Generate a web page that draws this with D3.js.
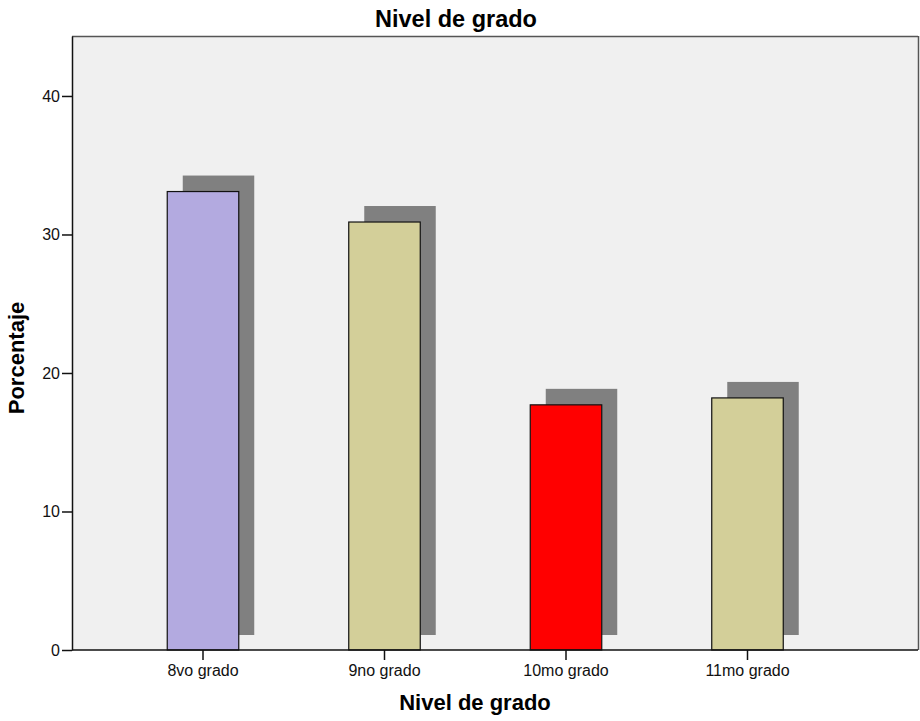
<!DOCTYPE html>
<html>
<head>
<meta charset="utf-8">
<script src="https://cdn.jsdelivr.net/npm/d3@7"></script>
<style>
  html, body { margin: 0; padding: 0; background: #ffffff; }
  svg { display: block; }
  text { font-family: "Liberation Sans", Arial, sans-serif; }
</style>
</head>
<body>
<div id="chart"></div>
<script>
const categories = ["8vo grado", "9no grado", "10mo grado", "11mo grado"];
const percentages = [33.1, 30.9, 17.7, 18.2];
const barColors = ["#b3aae0", "#d3cf99", "#ff0000", "#d3cf99"];
const yTicks = [0, 10, 20, 30, 40];
const titleText = "Nivel de grado";
const xTitle = "Nivel de grado";
const yTitle = "Porcentaje";

const W = 920, H = 721;
const plot = { left: 72, top: 36, right: 918, bottom: 650 };

const svg = d3.select("#chart").append("svg")
  .attr("width", W).attr("height", H);

const x = d3.scaleBand()
  .domain(categories)
  .range([112.25, 838.25])
  .paddingInner(0.606)
  .paddingOuter(0.303);

const y = d3.scaleLinear()
  .domain([0, 44.33])
  .range([plot.bottom, plot.top]);

// plot background
svg.append("rect")
  .attr("x", plot.left).attr("y", plot.top)
  .attr("width", plot.right - plot.left).attr("height", plot.bottom - plot.top)
  .attr("fill", "#f0f0f0");

// frame top & right
svg.append("line")
  .attr("x1", plot.left).attr("x2", plot.right)
  .attr("y1", plot.top + 0.5).attr("y2", plot.top + 0.5)
  .attr("stroke", "#555").attr("stroke-width", 1.5);
svg.append("line")
  .attr("x1", plot.right + 0.5).attr("x2", plot.right + 0.5)
  .attr("y1", plot.top).attr("y2", plot.bottom)
  .attr("stroke", "#555").attr("stroke-width", 1.5);

const dx = 15.5, dy = 16;

// shadows
svg.append("g").selectAll("rect")
  .data(percentages)
  .join("rect")
  .attr("x", (d, i) => x(categories[i]) + dx)
  .attr("y", d => y(d) - dy)
  .attr("width", x.bandwidth())
  .attr("height", d => (y(0) - 15) - (y(d) - dy))
  .attr("fill", "#808080");

// bars
svg.append("g").selectAll("rect")
  .data(percentages)
  .join("rect")
  .attr("x", (d, i) => x(categories[i]))
  .attr("y", d => y(d))
  .attr("width", x.bandwidth())
  .attr("height", d => y(0) - y(d))
  .attr("fill", (d, i) => barColors[i])
  .attr("stroke", "#111")
  .attr("stroke-width", 1.2);

// y axis
const yAxis = svg.append("g")
  .attr("transform", `translate(${plot.left},0)`)
  .call(d3.axisLeft(y).tickValues(yTicks).tickSize(10).tickPadding(2).tickSizeOuter(0));
yAxis.select(".domain").attr("stroke", "#111").attr("stroke-width", 1.5);
yAxis.selectAll(".tick line").attr("stroke", "#111").attr("stroke-width", 1.5);
yAxis.selectAll(".tick text").attr("font-size", 16).attr("fill", "#111")
  .attr("font-family", "Liberation Sans, Arial, sans-serif");

// x axis
const xAxis = svg.append("g")
  .attr("transform", `translate(0,${plot.bottom})`)
  .call(d3.axisBottom(x).tickSize(10).tickPadding(5).tickSizeOuter(0));
xAxis.select(".domain").attr("stroke", "#111").attr("stroke-width", 1.5)
  .attr("d", `M${plot.left},0H${plot.right}`);
xAxis.selectAll(".tick line").attr("stroke", "#111").attr("stroke-width", 1.5);
xAxis.selectAll(".tick text").attr("font-size", 16).attr("fill", "#111")
  .attr("font-family", "Liberation Sans, Arial, sans-serif");

// titles
svg.append("text")
  .attr("x", 456).attr("y", 27)
  .attr("text-anchor", "middle")
  .attr("font-size", 23.5).attr("font-weight", "bold").attr("fill", "#000")
  .text(titleText);

svg.append("text")
  .attr("x", 475).attr("y", 710)
  .attr("text-anchor", "middle")
  .attr("font-size", 22).attr("font-weight", "bold").attr("fill", "#000")
  .text(xTitle);

svg.append("text")
  .attr("transform", "translate(24,358) rotate(-90)")
  .attr("text-anchor", "middle")
  .attr("font-size", 22).attr("font-weight", "bold").attr("fill", "#000")
  .text(yTitle);
</script>
</body>
</html>
